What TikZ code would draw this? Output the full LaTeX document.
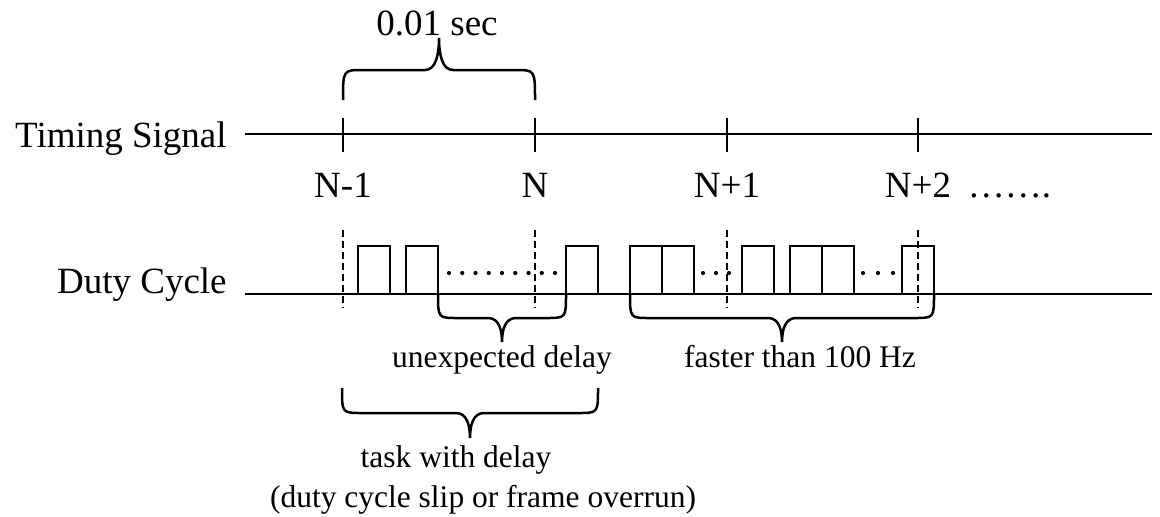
\documentclass[tikz,border=0pt]{standalone}
\usepackage{fontspec}
\setmainfont{Liberation Serif}
\usetikzlibrary{positioning}
% curly brace: left x, right x, end y, flat y, tip y
\newcommand{\timebrace}[5]{%
  \draw[brace] (#1,#3) .. controls (#1,#4) .. ({#1+20},#4)
    -- ({(#1+#2)/2-14},#4)
    .. controls ({(#1+#2)/2-3},#4) and ({(#1+#2)/2},{(#4+#5)/2}) .. ({(#1+#2)/2},#5)
    .. controls ({(#1+#2)/2},{(#4+#5)/2}) and ({(#1+#2)/2+3},#4) .. ({(#1+#2)/2+14},#4)
    -- ({#2-20},#4) .. controls (#2,#4) .. (#2,#3);}

\begin{document}
\begin{tikzpicture}[x=0.5pt, y=-0.5pt, line width=1.35pt,
  lbl/.style={font=\fontsize{18.5}{22}\selectfont, inner sep=0pt, anchor=base},
  note/.style={font=\fontsize{15.75}{19}\selectfont, inner sep=0pt, anchor=base},
  marker/.style={dash pattern=on 3.5pt off 2pt},
  brace/.style={line width=1.25pt}]
  \useasboundingbox (0,0) rectangle (1160,516);

  % the two signal lines
  \node[lbl, anchor=base east] (timing) at (228,147) {Timing Signal};
  \node[lbl, anchor=base east] (duty) at (228,293) {Duty Cycle};
  \coordinate (tstart) at (245,134);
  \coordinate (tend) at (1152,134);
  \coordinate (dstart) at (245,294);
  \coordinate (dend) at (1152,294);
  \draw (tstart) -- (tend);
  \draw (dstart) -- (dend);

  % frame ticks, markers and labels
  \foreach \x/\name/\txt in {343/n0/N-1, 535/n1/N, 727/n2/N+1, 918/n3/N+2} {
    \draw (\x,118) -- (\x,152);
    \draw[marker] (\x,230) -- (\x,308);
    \node[lbl] (\name) at (\x,197) {\txt};
  }
  \node[lbl, base right=7pt of n3] (more) {…….};

  % task pulses
  \foreach \a/\b in {358/390, 406/438, 566/598, 630/662, 662/694,
                     742/774, 790/822, 822/854, 902/934}
    \draw (\a,294) -- (\a,246) -- (\b,246) -- (\b,294);
  \foreach \x in {449,462.25,...,555, 703,716,729, 863,878,893}
    \fill (\x,273) circle (1.05pt);

  % braces
  \timebrace{343}{535}{100}{70}{38}
  \node[lbl] (period) at (437,35) {0.01 sec};
  \timebrace{438}{566}{294}{318}{342}
  \node[note] (late) at (502,367) {unexpected delay};
  \timebrace{630}{934}{294}{318}{342}
  \node[note] (fast) at (800,367) {faster than 100 Hz};
  \timebrace{342}{598}{388}{413}{438}
  \node[note] (slip) at (456,467) {task with delay};
  \node[note] (overrun) at (483,507) {(duty cycle slip or frame overrun)};
\end{tikzpicture}
\end{document}
